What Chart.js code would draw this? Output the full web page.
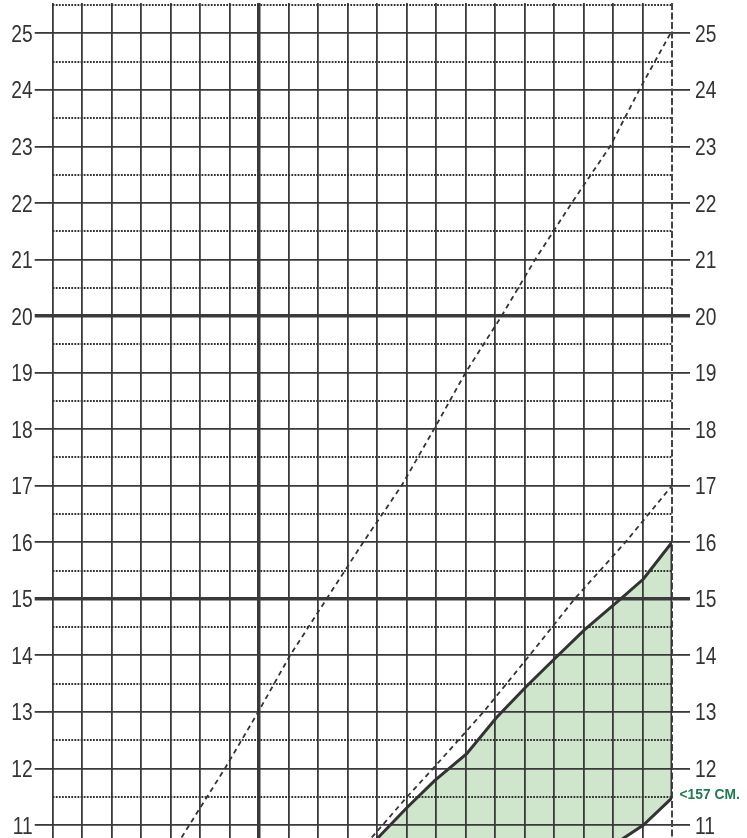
<!DOCTYPE html>
<html>
<head>
<meta charset="utf-8">
<script src="https://cdn.jsdelivr.net/npm/chart.js@4.4.1/dist/chart.umd.min.js"></script>
<style>
  html, body { margin: 0; padding: 0; background: #fff; }
</style>
</head>
<body>
<canvas id="chart" width="747" height="838"></canvas>
<script>
// Achsen: Spalten 0..21, Werte 10.77..25.54
const colTicks = [0,1,2,3,4,5,6,7,8,9,10,11,12,13,14,15,16,17,18,19,20,21];
const yLabels = [11,12,13,14,15,16,17,18,19,20,21,22,23,24,25];
const halfLines = [11.5,12.5,13.5,14.5,15.5,16.5,17.5,18.5,19.5,20.5,21.5,22.5,23.5,24.5,25.5];
const thickRows = [15, 20];
const thickCol = 7;
const yMin = 10.77, yMax = 25.536;

// obere gestrichelte Linie
const upperDashX = [4.37, 5.84, 6.97, 8.05, 9.29, 10.53, 11.83, 12.93, 14.0, 15.22, 16.36, 17.6, 18.9, 19.89, 20.95];
const upperDashY = [10.78, 12, 13, 14, 15, 16, 17, 18, 19, 20, 21, 22, 23, 24, 25];

// untere gestrichelte Linie
const lowerDashX = [10.82, 12.02, 12.9, 14.61, 16.17, 17.7, 19.42, 21];
const lowerDashY = [10.78, 11.5, 12, 13, 14, 15, 16, 17];

// grüne Zone (Umriss: obere Kante, rechter Rand, untere Kante)
const zoneX = [10.25, 11.04, 12.0, 12.96, 14.04, 15.05, 16.06, 17.08, 18.03, 19.26, 20.03, 21, 21, 20.03, 19.34, 18.0];
const zoneY = [10.3, 10.78, 11.3, 11.79, 12.26, 12.9, 13.45, 13.97, 14.45, 15.0, 15.35, 16, 11.48, 11.0, 10.76, 10.3];

const zoneLabel = '<157 CM.';
const zoneLabelAt = 11.55;

const labelFont = "'Liberation Sans', Arial, sans-serif";
const lineCol = '#3a3a3a';
const tickLen = 18;

function toPoints(xs, ys) {
    return xs.map((x, i) => ({ x: x, y: ys[i] }));
}

// schmal gesetzter Text (Schrift horizontal gestaucht)
function narrowText(ctx, text, x, y, align, sx) {
    ctx.save();
    ctx.translate(x, y);
    ctx.scale(sx, 1);
    ctx.textAlign = align;
    ctx.textBaseline = 'alphabetic';
    ctx.fillText(text, 0, 0);
    ctx.restore();
}

// Hilfslinien: gepunktete Halbwerte, gestrichelter rechter Rand, Beschriftungen
const extraGrid = {
    id: 'extraGrid',
    beforeDatasetsDraw(chart) {
        const { ctx, chartArea, scales } = chart;
        ctx.save();
        ctx.strokeStyle = '#333';
        ctx.lineWidth = 1.8;
        ctx.setLineDash([1.8, 1.3]);
        halfLines.forEach(v => {
            const y = Math.round(scales.y.getPixelForValue(v));
            ctx.beginPath();
            ctx.moveTo(chartArea.left, y);
            ctx.lineTo(chartArea.right, y);
            ctx.stroke();
        });
        const xr = Math.round(scales.x.getPixelForValue(colTicks[colTicks.length - 1]));
        ctx.strokeStyle = '#444';
        ctx.lineWidth = 2;
        ctx.setLineDash([7, 2.5]);
        ctx.beginPath();
        ctx.moveTo(xr, chartArea.top);
        ctx.lineTo(xr, chartArea.bottom);
        ctx.stroke();
        ctx.restore();
    },
    afterDraw(chart) {
        const { ctx, chartArea, scales } = chart;
        ctx.save();
        ctx.fillStyle = '#333';
        ctx.font = "24px " + labelFont;
        yLabels.forEach(v => {
            const y = scales.y.getPixelForValue(v) + 8.6;
            narrowText(ctx, String(v), chartArea.left - tickLen - 2, y, 'right', 0.8);
            narrowText(ctx, String(v), chartArea.right + tickLen + 5, y, 'left', 0.8);
        });
        ctx.fillStyle = '#1e7a4f';
        ctx.font = "bold 15px " + labelFont;
        narrowText(ctx, zoneLabel, chartArea.right + 7.5, scales.y.getPixelForValue(zoneLabelAt) + 5.4, 'left', 0.92);
        ctx.restore();
    }
};

const yAxisBase = (pos, width) => ({
    type: 'linear',
    position: pos,
    min: yMin,
    max: yMax,
    afterBuildTicks: s => { s.ticks = yLabels.map(v => ({ value: v })); },
    afterFit: s => { s.width = width; s.paddingTop = 0; s.paddingBottom = 0; },
    ticks: { display: false },
    grid: {
        color: lineCol,
        lineWidth: c => thickRows.includes(c.tick && c.tick.value) ? 3.5 : 1.8,
        tickWidth: c => thickRows.includes(c.tick && c.tick.value) ? 3.5 : 1.8,
        tickColor: lineCol,
        tickLength: tickLen,
        drawOnChartArea: pos === 'left'
    },
    border: { display: false }
});

new Chart(document.getElementById('chart'), {
    type: 'line',
    data: {
        datasets: [{
            data: toPoints(zoneX, zoneY),
            borderColor: '#333',
            borderWidth: 3,
            backgroundColor: '#cfe6cc',
            fill: 'shape',
            pointRadius: 0,
            tension: 0
        }, {
            data: toPoints(upperDashX, upperDashY),
            borderColor: '#333',
            borderWidth: 1.8,
            borderDash: [5, 4],
            fill: false,
            pointRadius: 0,
            tension: 0
        }, {
            data: toPoints(lowerDashX, lowerDashY),
            borderColor: '#333',
            borderWidth: 1.8,
            borderDash: [5, 4],
            fill: false,
            pointRadius: 0,
            tension: 0
        }]
    },
    options: {
        responsive: false,
        animation: false,
        devicePixelRatio: 1,
        layout: { padding: { top: 3, left: 0, right: 0, bottom: 0 } },
        plugins: {
            legend: { display: false },
            tooltip: { enabled: false },
            filler: { drawTime: 'beforeDraw' }
        },
        scales: {
            x: {
                type: 'linear',
                min: 0,
                max: 21,
                afterBuildTicks: s => { s.ticks = colTicks.map(v => ({ value: v })); },
                afterFit: s => { s.height = 0; s.paddingLeft = 0; s.paddingRight = 0; },
                ticks: { display: false },
                grid: {
                    color: c => (c.tick && c.tick.value === 21) ? 'rgba(0,0,0,0)' : lineCol,
                    lineWidth: c => (c.tick && c.tick.value === thickCol) ? 3.5 : 1.8,
                    drawTicks: false
                },
                border: { display: false }
            },
            y: yAxisBase('left', 52.7),
            y2: yAxisBase('right', 75)
        }
    },
    plugins: [extraGrid]
});
</script>
</body>
</html>
